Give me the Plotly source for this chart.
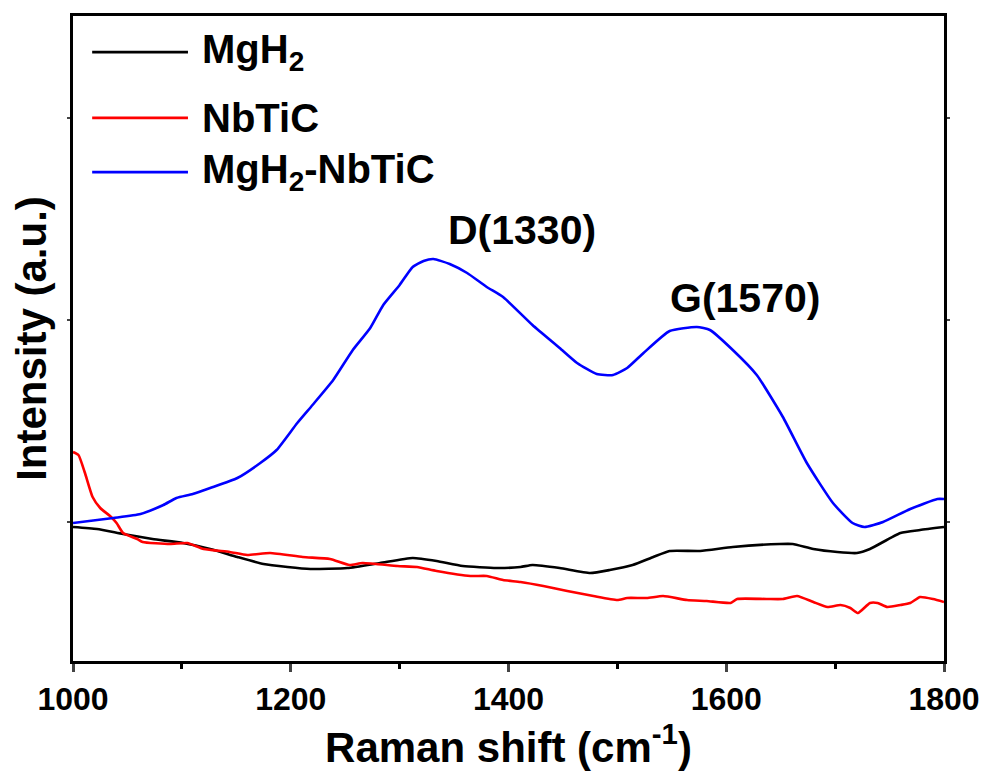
import plotly.graph_objects as go

# Raman shift (cm^-1) and intensity (a.u.)
mgh2_x = [1000, 1022, 1046, 1073, 1101, 1126, 1151, 1175, 1197, 1218, 1252, 1282, 1312, 1334,
          1358, 1389, 1411, 1422, 1447, 1475, 1493, 1514, 1533, 1548, 1576, 1606, 1649, 1661,
          1680, 1702, 1720, 1732, 1760, 1778, 1800]
mgh2_y = [134, 132, 127, 122, 118, 112, 104, 97, 94, 92, 93, 98, 103, 100,
          95, 93, 94, 96, 93, 88, 91, 96, 104, 110, 110, 114, 117, 117,
          112, 109, 108, 112, 128, 131, 134]

nbtic_x = [1000, 1005, 1011, 1018, 1025, 1034, 1040, 1046, 1059, 1064, 1089, 1105, 1120, 1144,
           1160, 1181, 1211, 1236, 1254, 1266, 1298, 1316, 1334, 1365, 1380, 1395, 1411, 1432,
           1454, 1478, 1500, 1509, 1527, 1542, 1564, 1582, 1604, 1610, 1637, 1652, 1665, 1680,
           1693, 1705, 1714, 1721, 1732, 1739, 1748, 1760, 1769, 1778, 1790, 1800]
nbtic_y = [209, 206, 188, 164, 153, 145, 138, 128, 122, 119, 117, 118, 112, 109,
           106, 108, 104, 102, 96, 98, 95, 94, 90, 85, 85, 81, 79, 75,
           70, 65, 61, 63, 63, 65, 61, 60, 58, 62, 62, 62, 65, 59,
           54, 56, 53, 48, 58, 58, 54, 56, 58, 64, 62, 59]

mix_x = [1000, 1037, 1062, 1083, 1095, 1110, 1126, 1151, 1172, 1187, 1206, 1220, 1239, 1257,
         1273, 1285, 1300, 1312, 1322, 1331, 1346, 1362, 1380, 1395, 1422, 1447, 1463, 1481,
         1496, 1509, 1524, 1548, 1573, 1585, 1606, 1628, 1652, 1674, 1698, 1716, 1727, 1744,
         1769, 1794, 1800]
mix_y = [138, 143, 147, 156, 163, 167, 173, 183, 198, 211, 238, 256, 281, 311,
         333, 356, 376, 394, 400, 402, 397, 388, 374, 364, 336, 313, 298, 287,
         286, 293, 308, 330, 334, 331, 311, 286, 244, 198, 158, 138, 134, 139,
         152, 162, 162]

x_ticks = [1000, 1200, 1400, 1600, 1800]
x_minor = [1100, 1300, 1500, 1700]
y_ticks = [139, 341, 543]

legend_names = ["MgH<sub>2</sub>", "NbTiC", "MgH<sub>2</sub>-NbTiC"]
colors = ["#000000", "#ff0000", "#0000ff"]

peak_labels = ["D(1330)", "G(1570)"]
peak_x = [1412, 1617]
peak_y = [431, 363]

FONT = "Arial, Liberation Sans, sans-serif"

fig = go.Figure()
for xs, ys, name, c in zip([mgh2_x, nbtic_x, mix_x], [mgh2_y, nbtic_y, mix_y], legend_names, colors):
    fig.add_trace(go.Scatter(x=xs, y=ys, mode="lines", name=name,
                             line=dict(color=c, width=2.6, shape="spline", smoothing=0.5),
                             showlegend=False))

# manual legend with long line samples
leg_y = [0.944, 0.842, 0.758]
for name, c, ly in zip(legend_names, colors, leg_y):
    fig.add_shape(type="line", xref="paper", yref="paper", x0=0.022, x1=0.132, y0=ly, y1=ly,
                  line=dict(color=c, width=2.6))
    fig.add_annotation(xref="paper", yref="paper", x=0.146, y=ly, text=name, showarrow=False,
                       xanchor="left", yanchor="middle",
                       font=dict(family=FONT, size=40, color="black", weight="bold"))

for t, px, py in zip(peak_labels, peak_x, peak_y):
    fig.add_annotation(x=px, y=py, text=t, showarrow=False,
                       font=dict(family=FONT, size=41, color="black", weight="bold"))

fig.update_layout(
    width=985, height=772,
    margin=dict(l=73, r=41, t=16, b=111, autoexpand=False),
    plot_bgcolor="white", paper_bgcolor="white",
    font=dict(family=FONT, color="black"),
)
fig.update_xaxes(range=[1000, 1800], tickvals=x_ticks, ticks="outside", ticklen=8, tickwidth=2.5,
                 showline=True, linewidth=3, linecolor="black", mirror=True, showgrid=False,
                 zeroline=False, automargin=False,
                 minor=dict(tickvals=x_minor, ticks="outside", ticklen=5, tickwidth=2.5,
                            tickcolor="black"),
                 tickfont=dict(family=FONT, size=32, color="black", weight="bold"),
                 title=dict(text="Raman shift (cm<sup>-1</sup>)", standoff=4,
                            font=dict(family=FONT, size=42, color="black", weight="bold")))
fig.update_yaxes(range=[0, 645], tickvals=y_ticks, showticklabels=False, ticks="outside", ticklen=3,
                 tickwidth=2, showline=True, linewidth=3, linecolor="black", mirror="allticks",
                 showgrid=False, zeroline=False, automargin=False,
                 title=dict(text="Intensity (a.u.)", standoff=8,
                            font=dict(family=FONT, size=42, color="black", weight="bold")))

fig.write_html("out.html")
